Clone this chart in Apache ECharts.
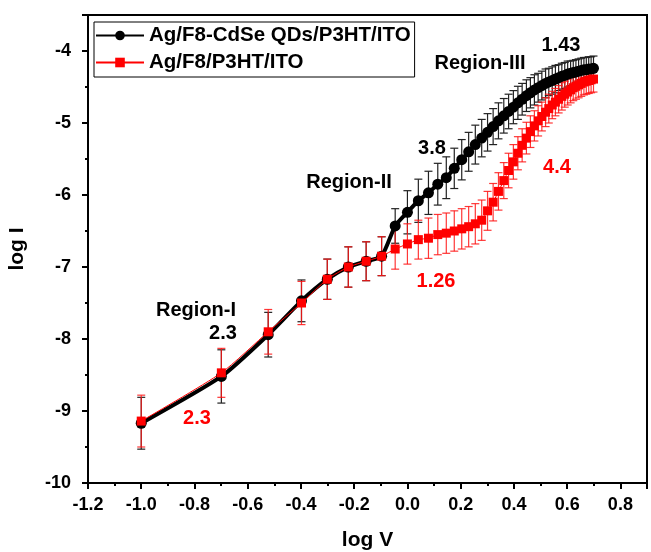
<!DOCTYPE html>
<html>
<head>
<meta charset="utf-8">
<script src="https://cdn.jsdelivr.net/npm/echarts@6/dist/echarts.min.js"></script>
<style>
html,body{margin:0;padding:0;background:#fff;}
#chart{width:651px;height:552px;}
</style>
</head>
<body>
<div id="chart"></div>
<script>
// log V values
var logV = [-1.0, -0.699, -0.523, -0.398, -0.301, -0.222, -0.155, -0.097, -0.046, 0.0,
  0.041, 0.079, 0.114, 0.146, 0.176, 0.204, 0.230, 0.255, 0.279, 0.301,
  0.322, 0.342, 0.362, 0.380, 0.398, 0.415, 0.431, 0.447, 0.462, 0.477,
  0.491, 0.505, 0.519, 0.531, 0.544, 0.556, 0.568, 0.580, 0.591, 0.602,
  0.613, 0.623, 0.633, 0.643, 0.653, 0.663, 0.672, 0.681, 0.690, 0.699];
// Ag/F8-CdSe QDs/P3HT/ITO
var logI_QD = [-9.17, -8.52, -7.94, -7.47, -7.17, -7.00, -6.92, -6.85, -6.43, -6.24,
  -6.08, -5.97, -5.85, -5.76, -5.63, -5.51, -5.40, -5.30, -5.21, -5.13,
  -5.05, -4.97, -4.90, -4.84, -4.78, -4.72, -4.67, -4.62, -4.58, -4.54,
  -4.51, -4.48, -4.45, -4.43, -4.41, -4.39, -4.37, -4.35, -4.34, -4.32,
  -4.31, -4.30, -4.29, -4.28, -4.27, -4.26, -4.26, -4.25, -4.25, -4.24];
var err_QD = [0.36, 0.37, 0.31, 0.29, 0.28, 0.28, 0.27, 0.27, 0.24, 0.30,
  0.30, 0.30, 0.29, 0.29, 0.28, 0.28, 0.27, 0.27, 0.26, 0.26,
  0.25, 0.25, 0.24, 0.24, 0.23, 0.23, 0.22, 0.22, 0.21, 0.21,
  0.20, 0.20, 0.20, 0.19, 0.19, 0.19, 0.18, 0.18, 0.18, 0.18,
  0.17, 0.17, 0.17, 0.17, 0.17, 0.17, 0.17, 0.17, 0.17, 0.17];
// Ag/F8/P3HT/ITO
var logI_ref = [-9.14, -8.47, -7.90, -7.50, -7.17, -7.00, -6.92, -6.85, -6.75, -6.68,
  -6.62, -6.60, -6.55, -6.53, -6.50, -6.47, -6.44, -6.40, -6.35, -6.22,
  -6.10, -5.95, -5.80, -5.66, -5.54, -5.42, -5.31, -5.21, -5.12, -5.04,
  -4.97, -4.91, -4.85, -4.80, -4.75, -4.71, -4.67, -4.63, -4.60, -4.57,
  -4.54, -4.51, -4.49, -4.47, -4.45, -4.43, -4.42, -4.41, -4.40, -4.39];
var err_ref = [0.36, 0.34, 0.31, 0.30, 0.28, 0.28, 0.27, 0.27, 0.28, 0.28,
  0.27, 0.28, 0.28, 0.28, 0.28, 0.28, 0.28, 0.28, 0.28, 0.27,
  0.26, 0.26, 0.25, 0.24, 0.24, 0.23, 0.23, 0.22, 0.22, 0.21,
  0.21, 0.20, 0.20, 0.20, 0.19, 0.19, 0.19, 0.19, 0.18, 0.18,
  0.18, 0.18, 0.18, 0.18, 0.18, 0.18, 0.18, 0.18, 0.18, 0.18];

var seriesNames = ['Ag/F8-CdSe QDs/P3HT/ITO', 'Ag/F8/P3HT/ITO'];
var xTicks = {min: -1.2, max: 0.9, interval: 0.2};
var yTicks = {min: -10, max: -3.5, interval: 1};

var FONT = '"Liberation Sans", Arial, sans-serif';

function pairs(xs, ys) { return xs.map(function (x, i) { return [x, ys[i]]; }); }
function triples(xs, ys, es) { return xs.map(function (x, i) { return [x, ys[i], es[i]]; }); }

function errRender(color) {
  return function (params, api) {
    var x = api.value(0), y = api.value(1), e = api.value(2);
    var top = api.coord([x, y + e]);
    var bot = api.coord([x, y - e]);
    var w = 4;
    var st = {stroke: color, lineWidth: 1.2};
    return {type: 'group', children: [
      {type: 'line', shape: {x1: top[0], y1: top[1], x2: bot[0], y2: bot[1]}, style: st},
      {type: 'line', shape: {x1: top[0] - w, y1: top[1], x2: top[0] + w, y2: top[1]}, style: st},
      {type: 'line', shape: {x1: bot[0] - w, y1: bot[1], x2: bot[0] + w, y2: bot[1]}, style: st}
    ]};
  };
}

function txt(x, y, s, color) {
  return {type: 'text', x: x, y: y, style: {text: s, fill: color, font: 'bold 20px ' + FONT, textAlign: 'center', textVerticalAlign: 'middle'}, z: 100};
}

var chart = echarts.init(document.getElementById('chart'), null, {renderer: 'canvas'});
var axisCommon = {
  axisLine: {show: true, onZero: false, lineStyle: {color: '#000', width: 2}},
  axisTick: {show: true, inside: false, length: 6, lineStyle: {color: '#000', width: 2}},
  minorTick: {show: true, splitNumber: 2, length: 3, lineStyle: {color: '#000', width: 2}},
  splitLine: {show: false},
  axisLabel: {color: '#000', fontWeight: 'bold', fontSize: 18, fontFamily: FONT, showMaxLabel: false, margin: 13},
  nameTextStyle: {color: '#000', fontWeight: 'bold', fontSize: 21, fontFamily: FONT}
};

chart.setOption({
  animation: false,
  backgroundColor: '#fff',
  grid: {left: 88, right: 4, top: 15, bottom: 69, show: true, borderColor: '#000', borderWidth: 2,
    containLabel: false, outerBoundsMode: 'none'},
  xAxis: Object.assign({}, axisCommon, {
    type: 'value', min: xTicks.min, max: xTicks.max, interval: xTicks.interval,
    name: 'log V', nameLocation: 'middle', nameGap: 47,
    axisLabel: Object.assign({}, axisCommon.axisLabel, {formatter: function (v) { return v.toFixed(1); }})
  }),
  yAxis: Object.assign({}, axisCommon, {
    type: 'value', min: yTicks.min, max: yTicks.max, interval: yTicks.interval,
    name: 'log I', nameLocation: 'middle', nameGap: 60,
    axisLabel: Object.assign({}, axisCommon.axisLabel, {margin: 17})
  }),
  legend: {
    show: true, orient: 'vertical', left: 94, top: 22,
    padding: [2, 4, 3, 1], itemGap: 4, itemWidth: 48, itemHeight: 12,
    borderColor: '#000', borderWidth: 1,
    textStyle: {color: '#000', fontWeight: 'bold', fontSize: 20.5, fontFamily: FONT, lineHeight: 23},
    data: seriesNames
  },
  series: [
    {type: 'custom', name: 'errQD', renderItem: errRender('#222'), data: triples(logV, logI_QD, err_QD), z: 2, silent: true},
    {type: 'custom', name: 'errRef', renderItem: errRender('rgba(255,20,20,0.85)'), data: triples(logV, logI_ref, err_ref), z: 3, silent: true},
    {type: 'line', name: seriesNames[0], data: pairs(logV, logI_QD), smooth: 0.2,
      symbol: 'circle', symbolSize: 11, lineStyle: {color: '#000', width: 4},
      itemStyle: {color: '#000'}, z: 4},
    {type: 'line', name: seriesNames[1], data: pairs(logV, logI_ref), smooth: 0.2,
      symbol: 'rect', symbolSize: 9, lineStyle: {color: '#ff0000', width: 1},
      itemStyle: {color: '#ff0000'}, z: 5}
  ],
  graphic: [
    txt(196, 310, 'Region-I', '#000'),
    txt(223, 333, '2.3', '#000'),
    txt(197, 418, '2.3', '#ff0000'),
    txt(349, 182, 'Region-II', '#000'),
    txt(432, 148, '3.8', '#000'),
    txt(436, 281, '1.26', '#ff0000'),
    txt(480, 63, 'Region-III', '#000'),
    txt(561, 45, '1.43', '#000'),
    txt(557, 167, '4.4', '#ff0000')
  ]
});
</script>
</body>
</html>
